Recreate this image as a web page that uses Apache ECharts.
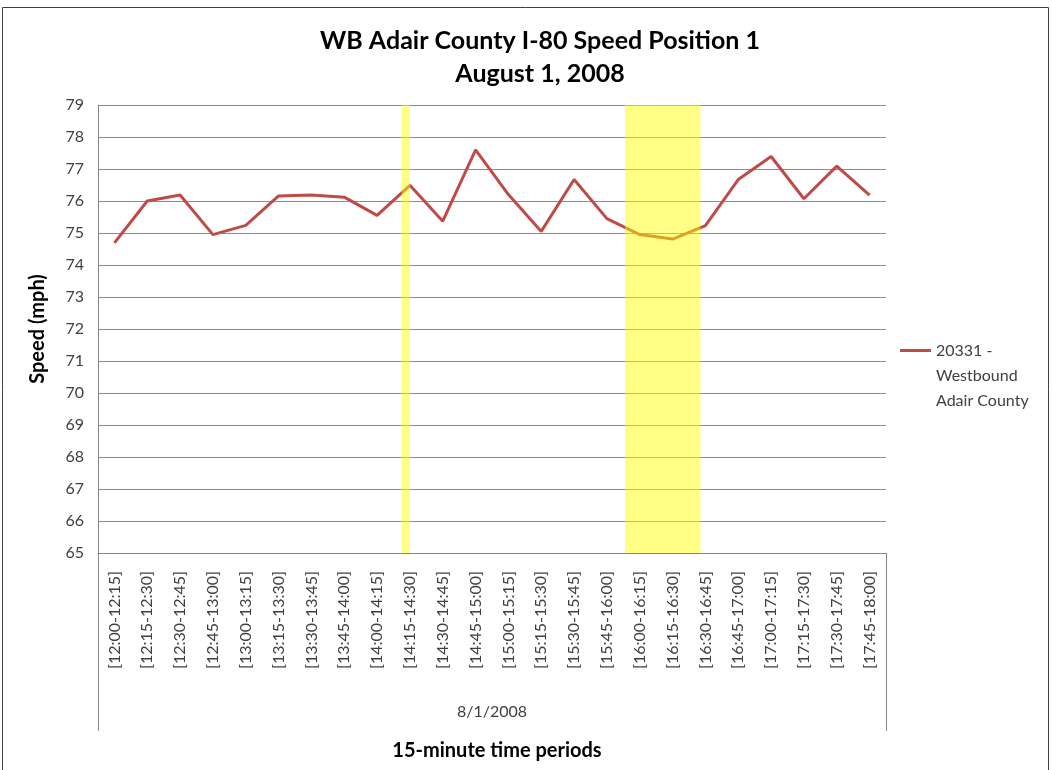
<!DOCTYPE html>
<html>
<head>
<meta charset="utf-8">
<title>WB Adair County I-80 Speed Position 1</title>
<script src="https://cdn.jsdelivr.net/npm/echarts@6/dist/echarts.min.js"></script>
<style>
  html, body { margin: 0; padding: 0; background: #fff; }
  #chart { width: 1052px; height: 770px; }
</style>
</head>
<body>
<div id="chart"></div>
<script>
/************************************ 数据 *******************************/
var categories = [
  '[12:00-12:15]', '[12:15-12:30]', '[12:30-12:45]', '[12:45-13:00]',
  '[13:00-13:15]', '[13:15-13:30]', '[13:30-13:45]', '[13:45-14:00]',
  '[14:00-14:15]', '[14:15-14:30]', '[14:30-14:45]', '[14:45-15:00]',
  '[15:00-15:15]', '[15:15-15:30]', '[15:30-15:45]', '[15:45-16:00]',
  '[16:00-16:15]', '[16:15-16:30]', '[16:30-16:45]', '[16:45-17:00]',
  '[17:00-17:15]', '[17:15-17:30]', '[17:30-17:45]', '[17:45-18:00]'
];
var speeds = [
  74.69, 76.00, 76.19, 74.95, 75.24, 76.16, 76.19, 76.12,
  75.55, 76.49, 75.37, 77.60, 76.20, 75.05, 76.67, 75.45,
  74.95, 74.81, 75.23, 76.67, 77.39, 76.07, 77.09, 76.18
];
var seriesName = '20331 -\nWestbound\nAdair County';
var dateLabel = '8/1/2008';
var yMin = 65, yMax = 79, yStep = 1;
// 黄色高亮区间 (按类目序号计, 0~24)
var highlights = [[9.25, 9.5], [16.05, 18.35]];

/************************************ 图表 *******************************/
var font = 'Lato, "Open Sans", sans-serif';
var chart = echarts.init(document.getElementById('chart'));

var areaData = highlights.map(function (h) {
  return [{ xAxis: h[0] }, { xAxis: h[1] }];
});

var option = {
  backgroundColor: '#fff',
  animation: false,
  title: [
    {
      text: 'WB Adair County I-80 Speed Position 1\nAugust 1, 2008',
      left: 535, top: 19, textAlign: 'center',
      textStyle: { fontFamily: font, fontSize: 25, fontWeight: 'bold', color: '#000', lineHeight: 33 }
    },
    {
      text: '15-minute time periods',
      left: 492, top: 736, textAlign: 'center',
      textStyle: { fontFamily: font, fontSize: 20, fontWeight: 'bold', color: '#000' }
    }
  ],
  legend: {
    left: 900, top: 288, padding: 0,
    itemWidth: 31, itemHeight: 3, icon: 'rect',
    data: [seriesName],
    // 前面补两行空行, 让图例线对齐第一行文字
    formatter: function (name) { return '\n\n' + name; },
    textStyle: { fontFamily: font, fontSize: 16, color: '#404040', lineHeight: 25 }
  },
  grid: { left: 98, right: 166, top: 105, bottom: 217, outerBoundsMode: 'none' },
  xAxis: [
    {
      type: 'category',
      data: categories,
      boundaryGap: true,
      axisLine: { lineStyle: { color: '#868686' } },
      axisTick: { show: false },
      axisLabel: { rotate: 90, margin: 18, interval: 0, fontFamily: font, fontSize: 16, color: '#404040' },
      name: dateLabel,
      nameLocation: 'middle',
      nameGap: 151,
      nameMoveOverlap: false,
      nameTextStyle: { fontFamily: font, fontSize: 16, color: '#404040' }
    },
    { type: 'value', min: 0, max: 24, show: false }
  ],
  yAxis: {
    type: 'value',
    min: yMin, max: yMax, interval: yStep,
    axisLine: { show: true, lineStyle: { color: '#868686' } },
    axisTick: { show: false },
    axisLabel: { margin: 14, fontFamily: font, fontSize: 16, color: '#404040' },
    splitLine: { lineStyle: { color: '#8c8c8c', width: 1 } },
    name: 'Speed (mph)',
    nameLocation: 'middle',
    nameGap: 50,
    nameMoveOverlap: false,
    nameTextStyle: { fontFamily: font, fontSize: 20, fontWeight: 'bold', color: '#000' }
  },
  series: [
    {
      name: seriesName,
      type: 'line',
      data: speeds,
      symbol: 'none',
      z: 2,
      lineStyle: { color: '#BE4B48', width: 3 },
      itemStyle: { color: '#BE4B48' }
    },
    {
      name: 'highlight',
      type: 'line',
      xAxisIndex: 1,
      data: [],
      markArea: {
        silent: true,
        z: 10,
        itemStyle: { color: 'rgba(255,255,0,0.48)' },
        data: areaData
      }
    }
  ],
  graphic: [
    // 外框
    { type: 'rect', shape: { x: 2.5, y: 7.5, width: 1046, height: 780 }, style: { fill: 'none', stroke: '#404040', lineWidth: 1 }, silent: true },
    // 多级类目轴的竖线
    { type: 'line', shape: { x1: 98.5, y1: 553, x2: 98.5, y2: 731 }, style: { stroke: '#868686', lineWidth: 1 }, silent: true },
    { type: 'line', shape: { x1: 886.5, y1: 553, x2: 886.5, y2: 731 }, style: { stroke: '#868686', lineWidth: 1 }, silent: true }
  ]
};

chart.setOption(option);
</script>
</body>
</html>
